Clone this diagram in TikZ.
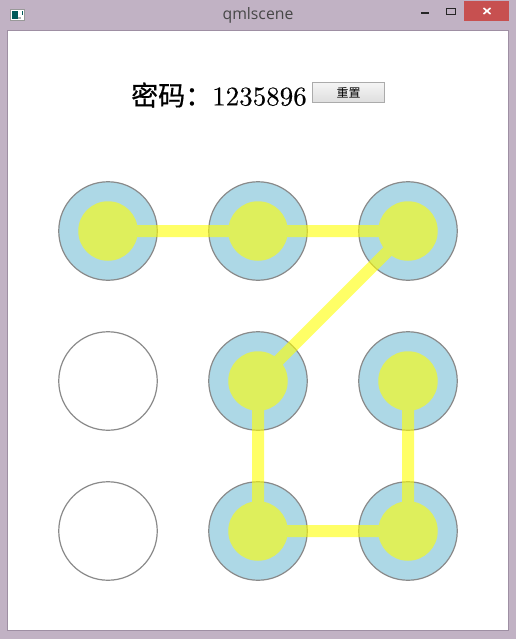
\documentclass[tikz,border=0pt]{standalone}
\usepackage{fontspec}
\usepackage{xcolor}
\usetikzlibrary{positioning}
\newfontfamily\cjk{Noto Sans CJK SC}
\newfontfamily\cjkheavy[FakeBold=0.6]{Noto Sans CJK SC}
\newfontfamily\titlefont{Open Sans}
\newfontface\digitfont[FakeBold=0.25]{lmroman10-regular.otf}
\definecolor{framecol}{RGB}{193,178,196}
\definecolor{edgecol}{RGB}{158,143,163}
\definecolor{closecol}{RGB}{199,80,80}
\definecolor{dotblue}{RGB}{173,216,230}
\definecolor{trailcol}{RGB}{255,255,0}
\tikzset{
  outerdot/.style={circle,draw=black!46,line width=1.2pt,fill=white,inner sep=0pt,outer sep=0pt,minimum size=98.5pt},
  hitdot/.style={outerdot,fill=dotblue},
  innerdot/.style={circle,fill=trailcol,inner sep=0pt,outer sep=0pt,minimum size=59.5pt},
  trail/.style={trailcol,line width=12pt,shorten <=-1pt,shorten >=-1pt},
}
\begin{document}
\begin{tikzpicture}[x=1pt,y=-1pt]
\useasboundingbox (0,0) rectangle (516,639);
%%%%%%%%%%%%%%%% window
\fill[framecol] (0,0) rectangle (516,639);
\draw[edgecol,line width=1pt,fill=white] (7.5,30.5) rectangle (508.5,630.5);
\fill[closecol] (464,1) rectangle (509,21);
\draw[white,line width=1.6pt] (483.5,8) -- (490.5,14);
\draw[white,line width=1.6pt] (490.5,8) -- (483.5,14);
\fill[black!85] (421,12) rectangle (429,14.5);
\draw[black!85,line width=1.2pt] (446.5,8.5) rectangle (455.5,14.5);
\draw[black!85,line width=1.8pt] (446.5,8.5) -- (455.5,8.5);
\fill[white,draw=black!40,line width=.6pt] (10,9) rectangle (24.5,20.5);
\fill[teal!70!black] (12,11.5) rectangle (18,19);
\fill[black!30] (18,17) rectangle (21,19);
\fill[teal!70!black] (22,11) rectangle (23,15);
\node[font=\titlefont\fontsize{15.8}{18}\selectfont,text=black!72] (title) at (258,15) {qmlscene};
%%%%%%%%%%%%%%%% password and button
\node[anchor=west,inner sep=0pt,font=\fontsize{27}{30}\selectfont] (code) at (131,95) {{\cjkheavy 密码：}{\digitfont 1235896}};
\node[draw=black!33,line width=1pt,top color=black!4,bottom color=black!13,minimum width=72pt,minimum height=20pt,inner sep=0pt,
  font=\cjk\fontsize{12}{14}\selectfont] (reset) at (348.5,92.5) {重置};
%%%%%%%%%%%%%%%% outer dots
\node[hitdot] (a1) at (108,231) {};
\node[hitdot] (a2) at (258,231) {};
\node[hitdot] (a3) at (408,231) {};
\node[outerdot] (a4) at (108,381) {};
\node[hitdot] (a5) at (258,381) {};
\node[hitdot] (a6) at (408,381) {};
\node[outerdot] (a7) at (108,531) {};
\node[hitdot] (a8) at (258,531) {};
\node[hitdot] (a9) at (408,531) {};
%%%%%%%%%%%%%%%% inner dots and the trail
\begin{scope}[transparency group,opacity=.6]
\node[innerdot] (b1) at (a1) {};
\node[innerdot] (b2) at (a2) {};
\node[innerdot] (b3) at (a3) {};
\node[innerdot] (b5) at (a5) {};
\node[innerdot] (b6) at (a6) {};
\node[innerdot] (b8) at (a8) {};
\node[innerdot] (b9) at (a9) {};
\draw[trail] (b1) -- (b2);
\draw[trail] (b2) -- (b3);
\draw[trail] (b3) -- (b5);
\draw[trail] (b5) -- (b8);
\draw[trail] (b8) -- (b9);
\draw[trail] (b9) -- (b6);
\end{scope}
\end{tikzpicture}
\end{document}
